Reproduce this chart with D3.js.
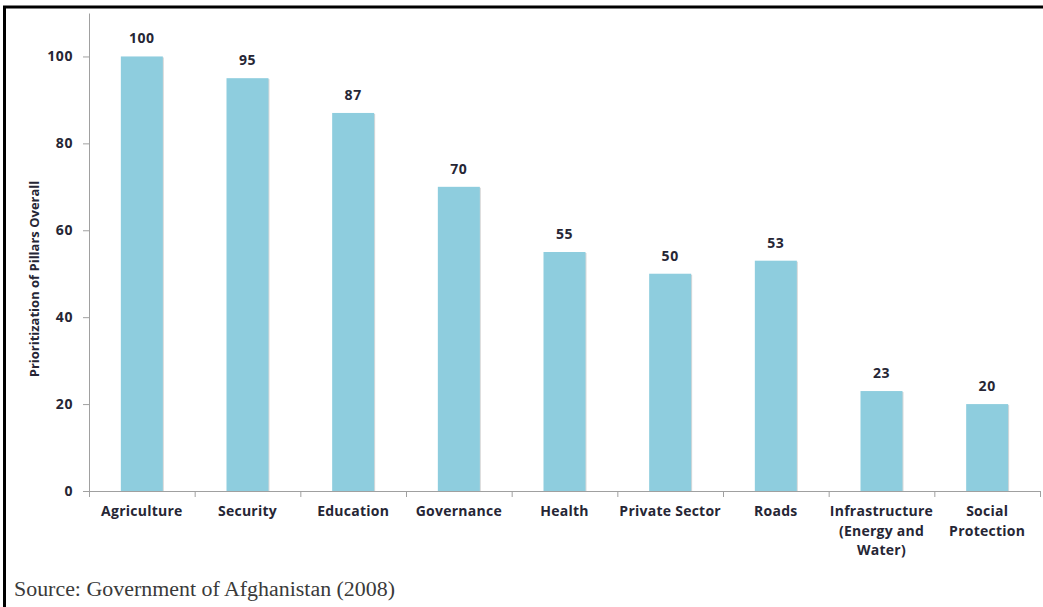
<!DOCTYPE html>
<html>
<head>
<meta charset="utf-8">
<script src="https://cdn.jsdelivr.net/npm/d3@7"></script>
<style>
  body { margin: 0; background: #fff; }
</style>
</head>
<body>
<div id="chart"></div>
<script>
// data
var categories = ["Agriculture", "Security", "Education", "Governance", "Health",
  "Private Sector", "Roads", "Infrastructure (Energy and Water)", "Social Protection"];
var labelLines = [["Agriculture"], ["Security"], ["Education"], ["Governance"], ["Health"],
  ["Private Sector"], ["Roads"], ["Infrastructure", "(Energy and", "Water)"], ["Social", "Protection"]];
var values = [100, 95, 87, 70, 55, 50, 53, 23, 20];
var yTicks = [0, 20, 40, 60, 80, 100];

var W = 1043, H = 607;
var margin = {left: 89, right: 3, top: 13, bottom: 116};
var font = "'Open Sans', sans-serif";
var textColor = "#262635";

var svg = d3.select("#chart").append("svg")
  .attr("width", W).attr("height", H);

// frame (top and left edges only)
svg.append("line").attr("x1", 3).attr("x2", W).attr("y1", 7).attr("y2", 7)
  .attr("stroke", "#000").attr("stroke-width", 3);
svg.append("line").attr("x1", 4.5).attr("x2", 4.5).attr("y1", 6).attr("y2", H)
  .attr("stroke", "#000").attr("stroke-width", 3);

var x = d3.scaleBand().domain(categories)
  .range([margin.left, W - margin.right]).paddingInner(0).paddingOuter(0);
var y = d3.scaleLinear().domain([0, 110]).range([H - margin.bottom, margin.top]);

var barW = 42;

// bar shadows
svg.selectAll("rect.shadow").data(values).enter().append("rect")
  .attr("class", "shadow")
  .attr("x", (d, i) => x(categories[i]) + x.bandwidth() / 2 - barW / 2 + 1)
  .attr("y", d => y(d) + 1)
  .attr("width", barW)
  .attr("height", d => y(0) - y(d))
  .attr("fill", "#d8d8d8");

svg.selectAll("rect.bar").data(values).enter().append("rect")
  .attr("class", "bar")
  .attr("x", (d, i) => x(categories[i]) + x.bandwidth() / 2 - barW / 2)
  .attr("y", d => y(d))
  .attr("width", barW)
  .attr("height", d => y(0) - y(d))
  .attr("fill", "#8ecdde");

// value labels
svg.selectAll("text.val").data(values).enter().append("text")
  .attr("class", "val")
  .attr("x", (d, i) => x(categories[i]) + x.bandwidth() / 2)
  .attr("y", d => y(d) - 13)
  .attr("text-anchor", "middle")
  .attr("font-family", font).attr("font-weight", "bold").attr("font-size", 14)
  .attr("letter-spacing", 0.6)
  .attr("fill", textColor)
  .text(d => d);

// y axis
var yAxis = svg.append("g")
  .attr("transform", "translate(" + margin.left + ",0)")
  .call(d3.axisLeft(y).tickValues(yTicks).tickSize(6).tickSizeOuter(0).tickPadding(10));
yAxis.select(".domain").attr("stroke", "#a0a0a0");
yAxis.selectAll(".tick line").attr("stroke", "#a0a0a0");
yAxis.selectAll(".tick text")
  .attr("font-family", font).attr("font-weight", "bold").attr("font-size", 14)
  .attr("letter-spacing", 0.6)
  .attr("fill", textColor);

// x axis
var xAxis = svg.append("g")
  .attr("transform", "translate(0," + y(0) + ")")
  .call(d3.axisBottom(x).tickSize(0).tickFormat(""));
xAxis.select(".domain").attr("stroke", "#a0a0a0");
var bounds = categories.map(c => x(c)).concat([x(categories[categories.length - 1]) + x.bandwidth()]);
xAxis.selectAll("line.cut").data(bounds).enter().append("line")
  .attr("class", "cut")
  .attr("x1", d => d + 0.5).attr("x2", d => d + 0.5)
  .attr("y1", 0).attr("y2", 6)
  .attr("stroke", "#a0a0a0");

// category labels
svg.selectAll("text.cat").data(labelLines).enter().append("text")
  .attr("class", "cat")
  .attr("x", (d, i) => x(categories[i]) + x.bandwidth() / 2)
  .attr("y", y(0) + 25)
  .attr("text-anchor", "middle")
  .attr("font-family", font).attr("font-weight", "bold").attr("font-size", 14)
  .attr("letter-spacing", 0.25)
  .attr("fill", textColor)
  .each(function (lines) {
    var t = d3.select(this);
    lines.forEach((l, j) => {
      t.append("tspan").attr("x", t.attr("x")).attr("dy", j === 0 ? 0 : 19.5).text(l);
    });
  });

// y axis title
svg.append("text")
  .attr("transform", "translate(39," + 279 + ") rotate(-90)")
  .attr("text-anchor", "middle")
  .attr("font-family", font).attr("font-weight", "bold").attr("font-size", 13)
  .attr("fill", textColor)
  .text("Prioritization of Pillars Overall");

// source note
svg.append("text")
  .attr("x", 14).attr("y", 596)
  .attr("font-family", "'Liberation Serif', 'Times New Roman', serif")
  .attr("font-size", 20)
  .attr("textLength", 381).attr("lengthAdjust", "spacingAndGlyphs")
  .attr("fill", "#3a3a3a")
  .text("Source: Government of Afghanistan (2008)");
</script>
</body>
</html>
